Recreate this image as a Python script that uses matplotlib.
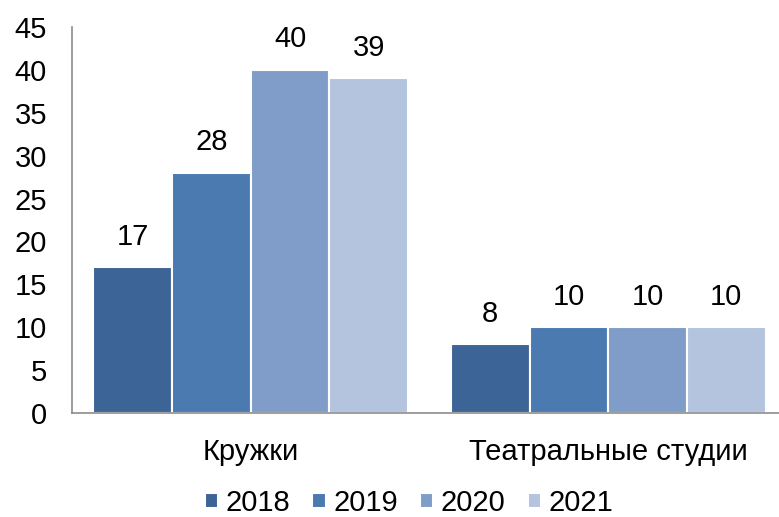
import numpy as np
import matplotlib.pyplot as plt

plt.rcParams['font.family'] = ['Liberation Sans', 'DejaVu Sans']

categories = ['Кружки', 'Театральные студии']
years = ['2018', '2019', '2020', '2021']
values = {
    '2018': [17, 8],
    '2019': [28, 10],
    '2020': [40, 10],
    '2021': [39, 10],
}
colors = ['#3D6496', '#4A7AB0', '#7F9DC8', '#B4C4DF']

fig = plt.figure(figsize=(7.79, 5.17), dpi=100)
ax = fig.add_axes([72 / 779, 104 / 517, 715 / 779, 386 / 517])

x = np.arange(len(categories))
width = 0.22
for i, year in enumerate(years):
    offset = (i - 1.5) * width
    bars = ax.bar(x + offset, values[year], width, color=colors[i],
                  edgecolor='white', linewidth=1.5, label=year, zorder=2)
    ax.bar_label(bars, padding=12, fontsize=21)

ax.set_xlim(-0.5, 1.5)
ax.set_ylim(0, 45)
ax.set_yticks(range(0, 46, 5))
ax.set_xticks(x)
ax.set_xticklabels(categories, fontsize=21)
ax.tick_params(axis='y', length=0, labelsize=21, pad=18)
ax.tick_params(axis='x', length=0, pad=18)

for side in ['top', 'right']:
    ax.spines[side].set_visible(False)
ax.spines['left'].set_color('#8c8c8c')
ax.spines['bottom'].set_color('#8c8c8c')
ax.spines['left'].set_linewidth(1.2)
ax.spines['bottom'].set_linewidth(1.2)

fig.legend(loc='center', bbox_to_anchor=(409 / 779, 1 - 503 / 517), ncol=4,
           frameon=False, fontsize=21, handlelength=0.45, handleheight=0.45,
           handletextpad=0.27, columnspacing=0.75, borderpad=0.1)

fig.savefig('out.png', dpi=100)
